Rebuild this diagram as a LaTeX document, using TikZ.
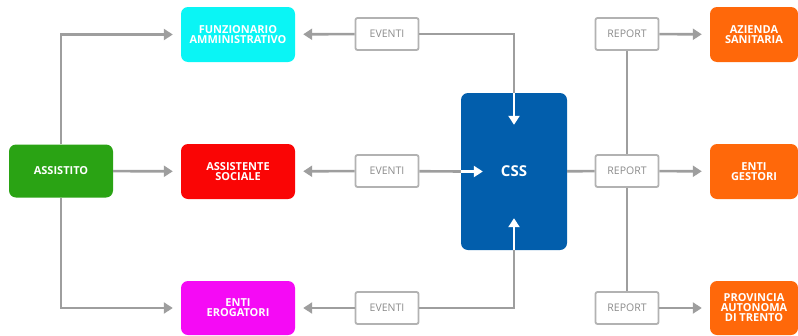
\documentclass[tikz,border=0pt]{standalone}
\usepackage{fontspec}
\setmainfont{Open Sans}
\usepackage{tikz}
\usetikzlibrary{arrows.meta,  % pour les pointes Triangle
           positioning}
\definecolor{cyanbox}{RGB}{10,245,245}
\definecolor{redbox}{RGB}{250,5,5}
\definecolor{greenbox}{RGB}{42,163,20}
\definecolor{magbox}{RGB}{245,10,245}
\definecolor{bluebox}{RGB}{2,94,172}
\definecolor{orangebox}{RGB}{255,104,10}
\definecolor{trait}{RGB}{158,158,158}
\definecolor{cadre}{RGB}{178,178,178}
\definecolor{texte}{RGB}{140,140,140}

\begin{document}
\begin{tikzpicture}[x=1pt,y=-1pt,
  bloc/.style={rounded corners=7pt,minimum width=114pt,minimum height=55pt,
    inner sep=0pt,align=center,text=white,
    font=\fontsize{11}{10}\selectfont\bfseries},
  etiq/.style={draw=cadre,line width=1.8pt,rounded corners=2pt,fill=white,
    minimum width=63pt,minimum height=32pt,inner sep=0pt,text=texte,
    font=\fontsize{10.5}{10}\selectfont},
  fleche/.style={draw=trait,line width=2.6pt,
    -{Triangle[length=9pt,width=11pt]},shorten >=8pt},
  trait/.style={draw=trait,line width=2.6pt},
  blanche/.style={draw=white,line width=2.6pt,
    -{Triangle[length=9pt,width=11pt]}}]
\useasboundingbox (0,0) rectangle (798,335);
% les acteurs
\node[bloc,fill=greenbox,minimum width=104pt,minimum height=53pt] (assistito) at (61,171) {ASSISTITO};
\node[bloc,fill=cyanbox] (funz) at (238,34.5) {FUNZIONARIO\\AMMINISTRATIVO};
\node[bloc,fill=redbox] (assoc) at (238,171.5) {ASSISTENTE\\SOCIALE};
\node[bloc,fill=magbox,minimum height=54pt] (eroga) at (238,308) {ENTI\\EROGATORI};
\node[bloc,fill=bluebox,minimum width=106pt,minimum height=157pt,
  font=\fontsize{15}{15}\selectfont\bfseries] (css) at (514,171.5) {CSS};
\node[bloc,fill=orangebox,minimum width=88pt] (azienda) at (754,34.5) {AZIENDA\\SANITARIA};
\node[bloc,fill=orangebox,minimum width=88pt] (gestori) at (754,171.5) {ENTI\\GESTORI};
\node[bloc,fill=orangebox,minimum width=88pt,minimum height=54pt] (pat) at (754,308) {PROVINCIA\\AUTONOMA\\DI TRENTO};
% les etiquettes
\node[etiq] (ev1) at (387,34) {EVENTI};
\node[etiq] (ev2) at (387,171) {EVENTI};
\node[etiq] (ev3) at (387,308) {EVENTI};
\node[etiq] (rep1) at (627,34) {REPORT};
\node[etiq] (rep2) at (627,171) {REPORT};
\node[etiq] (rep3) at (627,308) {REPORT};
% les liaisons
\draw[fleche] (assistito.north) |- (funz);
\draw[fleche] (assistito) -- (assoc);
\draw[fleche] (assistito.south) |- (eroga);
\draw[fleche] (ev1) -- (funz);
\draw[fleche] (ev2) -- (assoc);
\draw[fleche] (ev3) -- (eroga);
\draw[trait] (ev1) -| (css.north);
\draw[trait] (ev2) -- (css.west);
\draw[trait] (ev3) -| (css.south);
\draw[blanche] (css.north) -- ++(0,32);
\draw[blanche] (css.west) -- ++(22,0);
\draw[blanche] (css.south) -- ++(0,-32);
\draw[trait] (css) -- (rep2);
\draw[trait] (rep1) -- (rep2);
\draw[trait] (rep2) -- (rep3);
\draw[fleche] (rep1) -- (azienda);
\draw[fleche] (rep2) -- (gestori);
\draw[fleche] (rep3) -- (pat);
\end{tikzpicture}
\end{document}
